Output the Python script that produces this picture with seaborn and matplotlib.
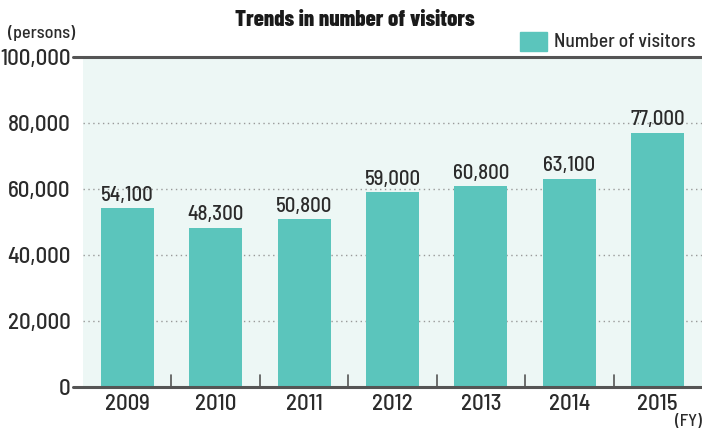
import matplotlib
matplotlib.use("Agg")
import matplotlib.pyplot as plt
from matplotlib import font_manager
import seaborn as sns
import pandas as pd

years = ["2009", "2010", "2011", "2012", "2013", "2014", "2015"]
visitors = [54100, 48300, 50800, 59000, 60800, 63100, 77000]
y_ticks = [0, 20000, 40000, 60000, 80000, 100000]

names = {f.name for f in font_manager.fontManager.ttflist}


def pick(*cands):
    for c in cands:
        if c in names:
            return c
    return "DejaVu Sans"


body_font = pick("Barlow Semi Condensed", "Barlow Condensed", "Asap Condensed")
title_font = pick("Barlow Condensed", "Asap Condensed")

sns.set_theme(style="white")
plt.rcParams["font.family"] = [body_font, "DejaVu Sans"]
plt.rcParams["font.weight"] = 500

bar_color = "#5BC5BC"
text_color = "#2b2b2b"
axis_color = "#555555"

df = pd.DataFrame({"year": years, "visitors": visitors})

fig = plt.figure(figsize=(7.02, 4.32), dpi=100)
ax = fig.add_axes([83 / 702, 1 - 387 / 432, 1 - 83 / 702, (387 - 57) / 432])
ax.set_facecolor("#EDF7F5")

sns.barplot(data=df, x="year", y="visitors", color=bar_color, width=0.6,
            saturation=1, ax=ax, zorder=3, linewidth=0)

ax.set_xlim(-0.5, len(years) - 0.5)
ax.set_ylim(0, 100000)
ax.set_yticks(y_ticks)
ax.set_yticklabels([f"{v:,}" for v in y_ticks], fontsize=16.5, color=text_color)
ax.tick_params(axis="y", length=0, pad=9)
ax.tick_params(axis="x", length=0, pad=5, labelsize=16.5, labelcolor=text_color)
ax.set_xlabel("")
ax.set_ylabel("")

# dotted gridlines for inner ticks
for v in y_ticks[1:-1]:
    ax.axhline(v, color="#999999", lw=1, ls=(0, (1, 2.5)), zorder=1)

# top and baseline rules, extending a little left of the plot
ax.axhline(100000, xmin=-0.016, xmax=1, color=axis_color, lw=2.2, clip_on=False, zorder=4)
ax.axhline(0, xmin=-0.016, xmax=1, color=axis_color, lw=2.2, clip_on=False, zorder=4)

# small separators between year categories
for i in range(len(years) - 1):
    ax.plot([i + 0.5, i + 0.5], [0, 3500], color=axis_color, lw=1.2, zorder=4)

for s in ax.spines.values():
    s.set_visible(False)

# value labels above bars
for i, v in enumerate(visitors):
    ax.text(i, v + 1100, f"{v:,}", ha="center", va="bottom", fontsize=15,
            color=text_color, zorder=5)

fig.text(355 / 702, 1 - 20 / 432, "Trends in number of visitors", ha="center",
         va="center", fontsize=16.5, fontweight=800, color="#1a1a1a",
         family=[title_font, "DejaVu Sans"])
fig.text(8 / 702, 1 - 33 / 432, "(persons)", ha="left", va="center",
         fontsize=13, color=text_color)
fig.text(702 / 702, 1 - 422 / 432, "(FY)", ha="right", va="center",
         fontsize=12.5, color=text_color)

# legend
fig.patches.append(plt.Rectangle((520 / 702, 1 - 51 / 432), 27 / 702, 19 / 432,
                                 transform=fig.transFigure, color=bar_color))
fig.text(554 / 702, 1 - 42 / 432, "Number of visitors", ha="left", va="center",
         fontsize=14, color=text_color)

fig.savefig("out.png", dpi=100)
